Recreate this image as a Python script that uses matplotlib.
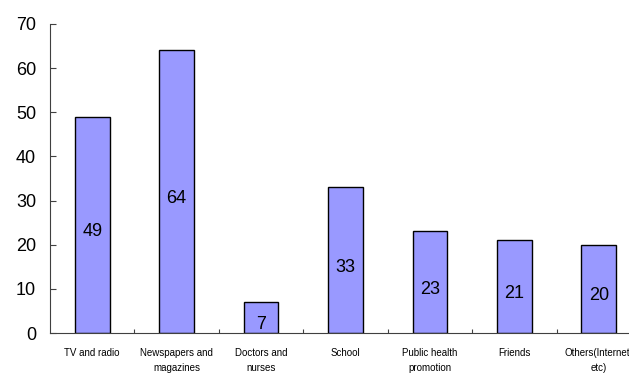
import numpy as np
import matplotlib.pyplot as plt

# Data
categories = ['TV and radio', 'Newspapers and\nmagazines', 'Doctors and\nnurses', 'School',
              'Public health\npromotion', 'Friends', 'Others(Internet,\netc)']
values = [49, 64, 7, 33, 23, 21, 20]
yticks = [0, 10, 20, 30, 40, 50, 60, 70]

fam = ['Liberation Sans Narrow', 'Liberation Sans']

fig = plt.figure(figsize=(6.29, 3.73), dpi=100)
ax = fig.add_axes([50 / 629, 40 / 373, 591 / 629, 309 / 373])

x = np.arange(len(categories))
ax.bar(x, values, width=0.41, color='#9999FF', edgecolor='black', linewidth=1.0)

# value labels, slightly below the middle of each bar
for xi, v in zip(x, values):
    ax.annotate(str(v), (xi, v / 2), xytext=(0, -5), textcoords='offset points',
                ha='center', va='center', fontsize=13, family=fam)

ax.set_xlim(-0.5, len(categories) - 0.5)
ax.set_ylim(0, 70)
ax.set_yticks(yticks)
ax.set_yticklabels([str(t) for t in yticks], fontsize=13, family=fam)

ax.set_xticks(x)
ax.set_xticklabels(categories, fontsize=7, family=fam, linespacing=1.6, va='top')
ax.set_xticks(np.arange(0.5, len(categories) - 0.5, 1), minor=True)
ax.tick_params(axis='x', which='major', length=0, pad=11)
ax.tick_params(axis='x', which='minor', direction='in', length=3, width=0.8, color='#404040')
ax.tick_params(axis='y', direction='in', length=4, width=0.8, color='#404040', pad=10)

for s in ['top', 'right']:
    ax.spines[s].set_visible(False)
ax.spines['left'].set_color('#404040')
ax.spines['bottom'].set_color('#404040')

fig.savefig('out.png', dpi=100)
